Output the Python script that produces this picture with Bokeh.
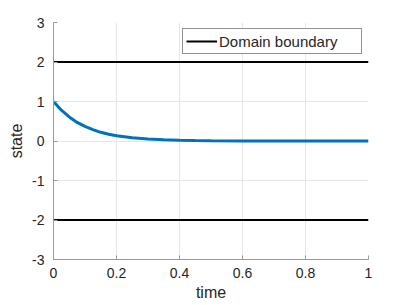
from bokeh.plotting import figure
from bokeh.models import FixedTicker, Legend, LegendItem
from bokeh.embed import file_html
from bokeh.resources import INLINE

# data
time = [0.0, 0.025, 0.05, 0.075, 0.1, 0.125, 0.15, 0.175, 0.2, 0.25, 0.3, 0.35, 0.4, 0.45, 0.5, 0.6, 0.7, 0.8, 0.9, 1.0]
state = [1.0, 0.78, 0.61, 0.47, 0.37, 0.29, 0.22, 0.17, 0.135, 0.082, 0.05, 0.03, 0.018, 0.011, 0.007, 0.003, 0.001, 0.0, 0.0, 0.0]
boundary_x = [0.0, 1.0]
upper_boundary = [2.0, 2.0]
lower_boundary = [-2.0, -2.0]
x_ticks = [0, 0.2, 0.4, 0.6, 0.8, 1]
x_tick_labels = ["0", "0.2", "0.4", "0.6", "0.8", "1"]
y_ticks = [-3, -2, -1, 0, 1, 2, 3]
y_tick_labels = ["-3", "-2", "-1", "0", "1", "2", "3"]

FONT = "Liberation Sans"

p = figure(width=407, height=305,
           x_range=(0, 1), y_range=(-3, 3),
           output_backend="svg", toolbar_location=None,
           min_border_left=53, min_border_right=39, min_border_top=22, min_border_bottom=46)
p.outline_line_color = None
p.background_fill_color = "white"

r1 = p.line(boundary_x, upper_boundary, line_color="black", line_width=2)
p.line(boundary_x, lower_boundary, line_color="black", line_width=2)
p.line(time, state, line_color="#0072BD", line_width=3)

for ax in (p.xaxis[0], p.yaxis[0]):
    ax.axis_line_color = "#9a9a9a"
    ax.major_tick_line_color = "#9a9a9a"
    ax.major_tick_in = 4
    ax.major_tick_out = 0
    ax.minor_tick_line_color = None
    ax.major_label_text_font = FONT
    ax.major_label_text_font_size = "14px"
    ax.major_label_text_color = "#262626"
    ax.axis_label_text_font = FONT
    ax.axis_label_text_font_size = "16px"
    ax.axis_label_text_font_style = "normal"
    ax.axis_label_text_color = "#262626"

p.xaxis.ticker = FixedTicker(ticks=x_ticks)
p.xaxis.major_label_overrides = dict(zip(x_ticks, x_tick_labels))
p.yaxis.ticker = FixedTicker(ticks=y_ticks)
p.yaxis.major_label_overrides = dict(zip(y_ticks, y_tick_labels))
p.xaxis.axis_label = "time"
p.yaxis.axis_label = "state"
p.xaxis.major_label_standoff = 8
p.xaxis.axis_label_standoff = 3
p.yaxis.major_label_standoff = 9
p.yaxis.axis_label_standoff = 4

p.grid.grid_line_color = "#e6e6e6"
p.grid.grid_line_width = 1

legend = Legend(items=[LegendItem(label="Domain boundary", renderers=[r1])],
                location=(129, 205), orientation="vertical")
legend.label_text_font = FONT
legend.label_text_font_size = "15px"
legend.label_text_color = "#262626"
legend.glyph_width = 31
legend.glyph_height = 18
legend.label_standoff = 2
legend.label_height = 18
legend.label_width = 139
legend.padding = 3
legend.margin = 0
legend.spacing = 0
legend.border_line_color = "#262626"
legend.border_line_width = 1
legend.background_fill_color = "white"
legend.background_fill_alpha = 1
p.add_layout(legend, "center")

open("out.html", "w").write(file_html(p, INLINE))
